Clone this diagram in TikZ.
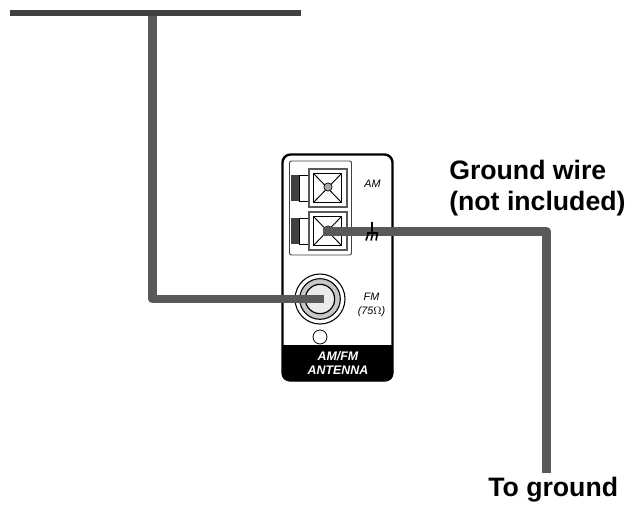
\documentclass[tikz,border=0pt]{standalone}
\usepackage{fontspec}
\setmainfont{Liberation Sans}
\usetikzlibrary{positioning}
\definecolor{wiregray}{HTML}{595959}
\definecolor{tabgray}{HTML}{404040}

\begin{document}
\begin{tikzpicture}[
  x=0.75pt,y=-0.75pt,
  wire/.style={draw=wiregray,line width=6.6pt,line join=round},
  topwire/.style={draw=tabgray,line width=4.6pt},
  outline/.style={draw,line width=.7pt},
  greyline/.style={draw=black!65,line width=1.5pt},
  label/.style={font=\bfseries\fontsize{20}{23.2}\selectfont,align=left,inner sep=0pt},
  small/.style={font=\itshape\fontsize{8.1}{10.5}\selectfont,align=center,inner sep=0pt},
  band/.style={font=\bfseries\itshape\fontsize{9.3}{10.5}\selectfont,align=center,inner sep=0pt,text=white}]

  \useasboundingbox (0,0) rectangle (629,506);

  % Faceplate
  \draw[line width=1.8pt,rounded corners=6pt] (282.5,154.5) rectangle (392.5,380.5);
  \fill[black,rounded corners=5pt] (282,360) rectangle (393,381);
  \fill[black] (282,345) rectangle (393,372);
  \draw[outline,rounded corners=1.5pt,draw=black!75] (289.5,161) rectangle (351.5,255);

  % Terminals
  \foreach \name/\ypos in {am/169,gnd/212}{
    \fill[tabgray] (291,\ypos+6) rectangle (299,\ypos+32);
    \draw[outline] (299,\ypos+6) rectangle (308,\ypos+32);
    \draw[greyline,fill=white] (308.5,\ypos) rectangle (346.5,\ypos+38);
    \draw[outline] (313.5,\ypos+4.5) rectangle (341.5,\ypos+33.5);
    \draw[outline] (313.5,\ypos+4.5) -- (341.5,\ypos+33.5);
    \draw[outline] (341.5,\ypos+4.5) -- (313.5,\ypos+33.5);
    \node[circle,draw,fill=black!35,line width=.5pt,minimum size=6.2pt,inner sep=0pt] (\name) at (328,\ypos+18) {};
  }

  % FM jack
  \node[circle,draw,line width=.8pt,minimum size=37.5pt,inner sep=0pt] (jackout) at (320,299) {};
  \node[circle,draw,line width=.8pt,fill=black!22,minimum size=30.5pt,inner sep=0pt] (jackmid) at (320,299) {};
  \node[circle,draw,line width=.9pt,fill=black!8,minimum size=22pt,inner sep=0pt] (jack) at (320,299) {};
  \node[circle,draw,line width=.6pt,minimum size=10.5pt,inner sep=0pt] (hole) at (320,337) {};

  % Printed labels
  \node[small] (amtext) at (372.5,184) {AM};
  \node[small] (fmtext) at (371.5,305) {FM\\(75$\Omega$)};
  \node[band] (bandtext) at (338,363.5) {AM/FM\\ANTENNA};

  % Wires
  \coordinate (topleft) at (10,13);
  \coordinate (topright) at (301,13);
  \coordinate (tee) at (152.5,13);
  \coordinate (bend) at (152.5,299);
  \coordinate (jackend) at (324,299);
  \coordinate (gndstart) at (323,231.5);
  \coordinate (corner) at (546.5,231.5);
  \coordinate (gndend) at (546.5,473);

  \draw[wire] (tee) -- (bend) -- (jackend);
  \draw[topwire] (topleft) -- (topright);
  \draw[wire] (gndstart) -- (corner) -- (gndend);

  % Ground mark
  \draw[line width=1.1pt] (372,222) -- (372,233);
  \draw[line width=1.2pt] (367,233) -- (378,233);
  \draw[line width=1.2pt] (368.5,233) -- (366,240.5);
  \draw[line width=1.2pt] (373,233) -- (371,240.5);
  \draw[line width=1.2pt] (377.5,233) -- (376,240.5);

  % Captions
  \node[label,anchor=base west] (ground) at (449,210.5) {Ground wire\\(not included)};
  \node[label,anchor=base west] (toground) at (488,496) {To ground};
\end{tikzpicture}
\end{document}
